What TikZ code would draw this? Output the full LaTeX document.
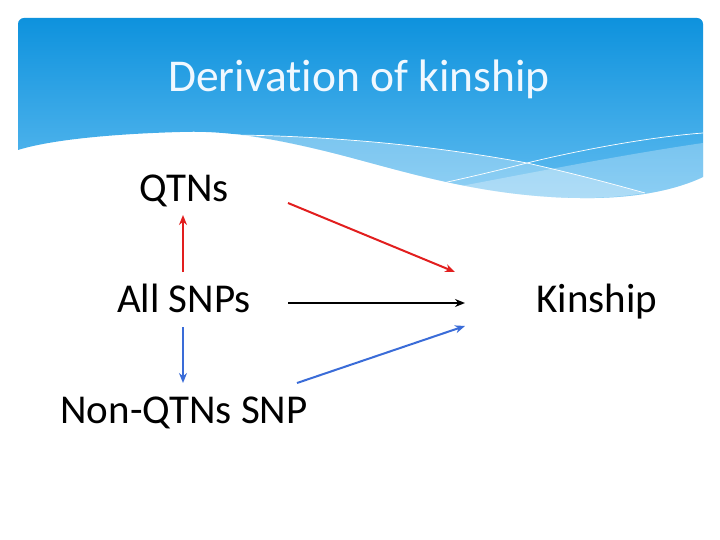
\documentclass[tikz,border=0pt]{standalone}
\usepackage{fontspec}
\setmainfont{Carlito}[Ligatures=NoCommon]
\usetikzlibrary{arrows.meta}
\definecolor{hdtop}{RGB}{14,146,221}
\definecolor{hdbot}{RGB}{96,188,240}
\definecolor{arred}{RGB}{226,30,30}
\definecolor{arblue}{RGB}{58,108,216}
\tikzset{
  lbl/.style={anchor=base, inner sep=0pt, font=\fontsize{41}{44}\selectfont, text=black},
  conn/.style={line width=2pt, -{Stealth[length=10pt,width=8pt]}},
}
\begin{document}
\begin{tikzpicture}[x=1pt,y=-1pt]
\useasboundingbox (0,0) rectangle (720,540);
\fill[white] (0,0) rectangle (720,540);
% header
\shade[top color=hdtop, bottom color=hdbot]
  (18,150) [rounded corners=6pt] -- (18,18) -- (703,18) [sharp corners] -- (703,177)
  .. controls (680,188) and (640,199) .. (580,198)
  .. controls (480,197) and (400,170) .. (333,153)
  .. controls (280,140) and (230,130) .. (180,132)
  .. controls (110,134) and (50,140) .. (18,150) -- cycle;
% light band A
\fill[white, opacity=0.3]
  (233,135) .. controls (330,136) and (430,145) .. (527,163)
  .. controls (580,175) and (620,186) .. (645,193)
  .. controls (620,197) and (600,198) .. (580,198)
  .. controls (480,197) and (400,170) .. (333,153)
  .. controls (290,143) and (260,137) .. (233,135) -- cycle;
% light band B
\fill[white, opacity=0.28]
  (440,190) .. controls (520,175) and (620,155) .. (703,143)
  -- (703,177) .. controls (680,188) and (640,199) .. (580,198)
  .. controls (530,197) and (480,194) .. (440,190) -- cycle;
% white lines
\draw[white, line width=0.7pt]
  (233,135) .. controls (330,136) and (430,145) .. (527,163)
  .. controls (580,175) and (620,186) .. (645,193);
\draw[white, line width=0.7pt]
  (443,183) .. controls (470,177) and (500,170) .. (527,163)
  .. controls (580,150) and (650,137) .. (703,133);
% title
\node[anchor=base, inner sep=0pt, text={rgb,255:red,240;green,248;blue,255},
      font=\fontsize{45.5}{48}\selectfont] (title) at (359,92) {Derivation of kinship};
% labels
\node[lbl] (qtn) at (184,202) {QTNs};
\node[lbl] (all) at (184,312) {All SNPs};
\node[lbl] (non) at (184,423) {Non-QTNs SNP};
\node[lbl] (kin) at (597,312) {Kinship};
% connector end points
\coordinate (a1s) at (183,272); \coordinate (a1e) at (183,215);
\coordinate (a2s) at (183,327); \coordinate (a2e) at (183,383);
\coordinate (a3s) at (288,203); \coordinate (a3e) at (455,272);
\coordinate (a4s) at (288,303); \coordinate (a4e) at (465,303);
\coordinate (a5s) at (297,383); \coordinate (a5e) at (465,326);
\draw[conn, arred] (a1s) -- (a1e);
\draw[conn, arblue] (a2s) -- (a2e);
\draw[conn, arred] (a3s) -- (a3e);
\draw[conn, black] (a4s) -- (a4e);
\draw[conn, arblue] (a5s) -- (a5e);
\end{tikzpicture}
\end{document}
